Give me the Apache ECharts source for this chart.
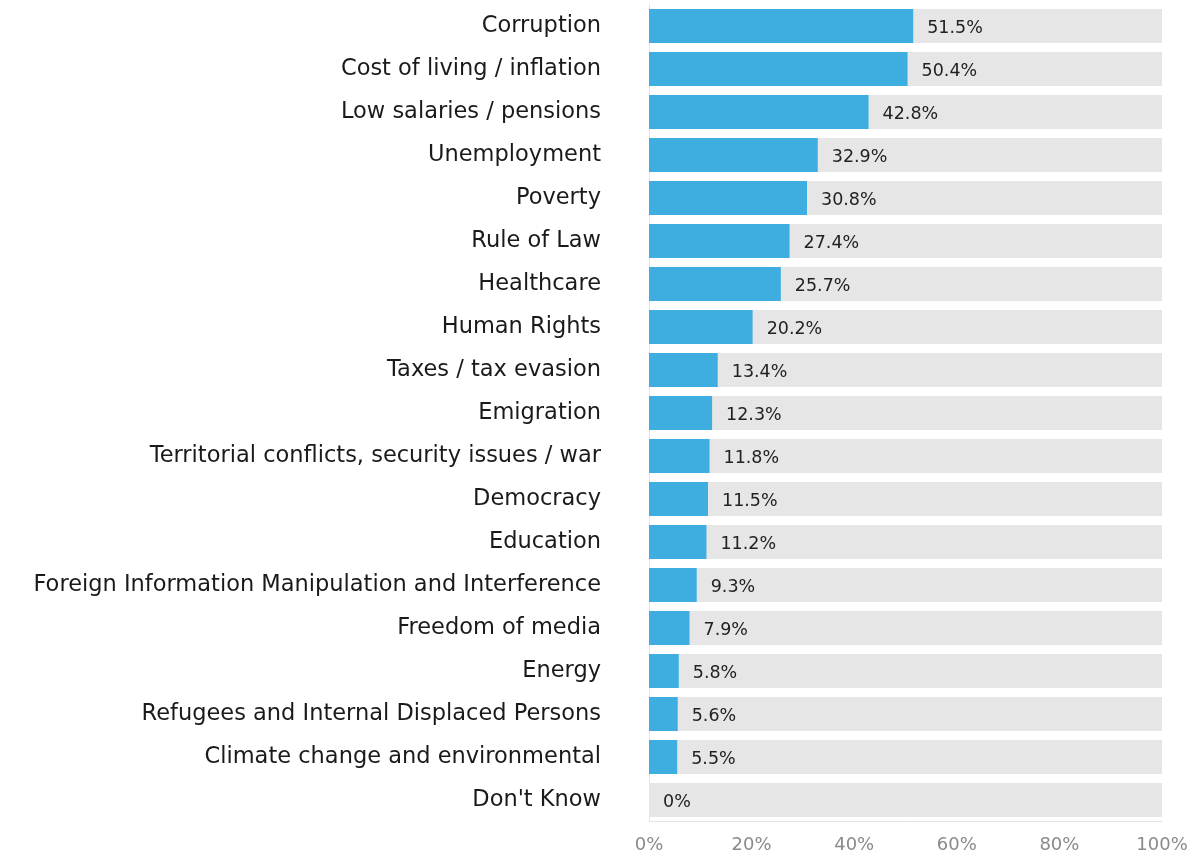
<!DOCTYPE html>
<html>
<head>
<meta charset="utf-8">
<script src="https://cdn.jsdelivr.net/npm/echarts@6/dist/echarts.min.js"></script>
<style>
html,body{margin:0;padding:0;background:#fff;}
#chart{width:1192px;height:857px;}
</style>
</head>
<body>
<div id="chart"></div>
<script>
const categories = [
  "Corruption",
  "Cost of living / inflation",
  "Low salaries / pensions",
  "Unemployment",
  "Poverty",
  "Rule of Law",
  "Healthcare",
  "Human Rights",
  "Taxes / tax evasion",
  "Emigration",
  "Territorial conflicts, security issues / war",
  "Democracy",
  "Education",
  "Foreign Information Manipulation and Interference",
  "Freedom of media",
  "Energy",
  "Refugees and Internal Displaced Persons",
  "Climate change and environmental",
  "Don't Know"
];
const values = [51.5, 50.4, 42.8, 32.9, 30.8, 27.4, 25.7, 20.2, 13.4, 12.3, 11.8, 11.5, 11.2, 9.3, 7.9, 5.8, 5.6, 5.5, 0];
const xTicks = [0, 20, 40, 60, 80, 100];

const chart = echarts.init(document.getElementById('chart'));
chart.setOption({
  animation: false,
  backgroundColor: '#ffffff',
  grid: { left: 649, right: 30, top: 4.5, bottom: 35.5, containLabel: false },
  xAxis: {
    type: 'value', min: xTicks[0], max: xTicks[xTicks.length - 1], interval: 20,
    axisLabel: { formatter: '{value}%', color: '#8a8a8a', fontSize: 18, fontFamily: 'DejaVu Sans', margin: 15 },
    splitLine: { show: false },
    axisLine: { show: true, lineStyle: { color: '#e4e4e4', width: 1 } },
    axisTick: { show: false }
  },
  yAxis: {
    type: 'category', data: categories, inverse: true,
    axisLabel: { color: '#1a1a1a', fontSize: 22.5, fontFamily: 'DejaVu Sans', margin: 48 },
    axisLine: { show: true, lineStyle: { color: '#e4e4e4', width: 1 } },
    axisTick: { show: false }
  },
  series: [{
    type: 'bar',
    data: values,
    barWidth: 34,
    itemStyle: { color: '#3eaee1' },
    showBackground: true,
    backgroundStyle: { color: '#e6e6e6' },
    label: {
      show: true, position: 'right', distance: 14, offset: [0, 2],
      formatter: p => p.value + '%',
      color: '#222', fontSize: 17.5, fontFamily: 'DejaVu Sans'
    }
  }]
});
</script>
</body>
</html>
